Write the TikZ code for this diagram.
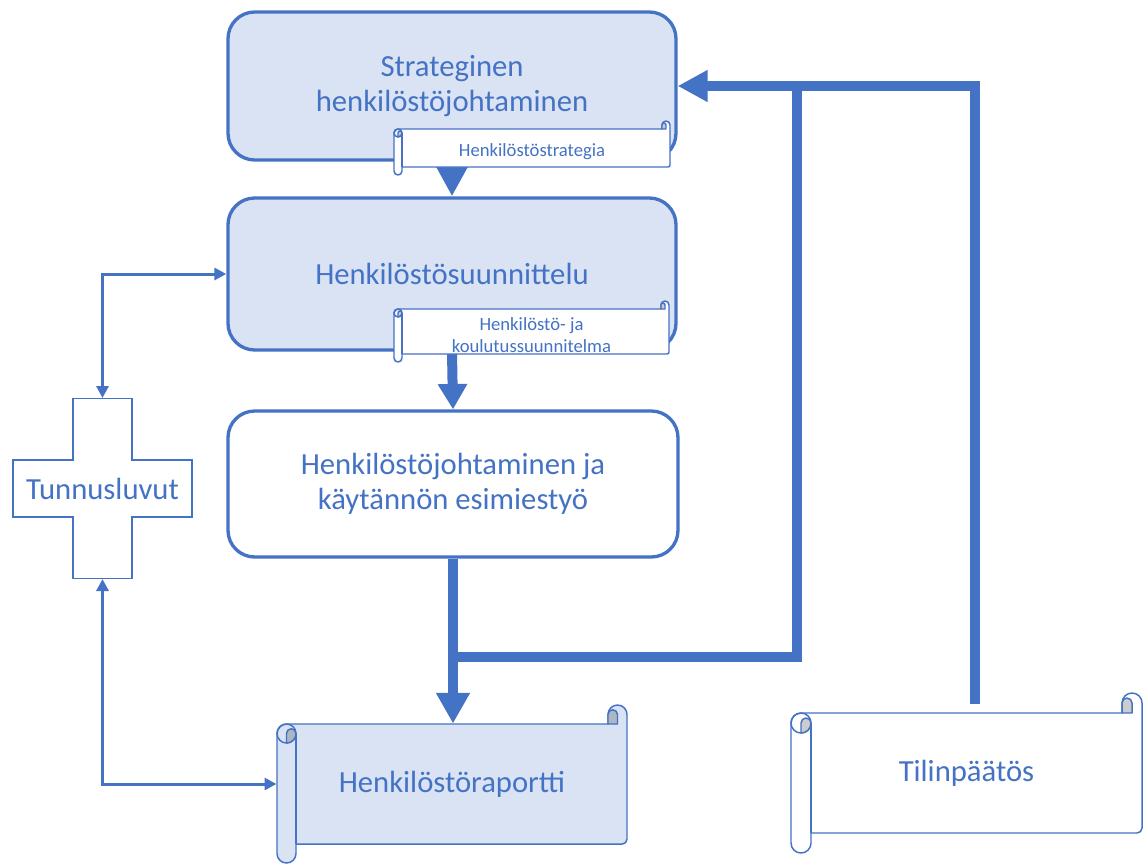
\documentclass[tikz,border=0pt]{standalone}
\usepackage{fontspec}
\setmainfont{Carlito}
\usetikzlibrary{arrows.meta,calc}
\definecolor{accblue}{RGB}{68,114,196}
\definecolor{boxfill}{RGB}{218,227,243}
\tikzset{every picture/.style={line width=0.75pt}}
\tikzset{
  mainbox/.style={draw=accblue, line width=2.5pt, rounded corners=20pt, minimum width=336pt, text=accblue, align=center, font=\fontsize{23}{26}\selectfont, inner sep=0pt},
  scrolledge/.style={draw=accblue, line width=1.1pt, line join=round},
  scrolltext/.style={text=accblue, align=center, inner sep=0pt},
  flowline/.style={draw=accblue, line width=7.5pt},
  linkline/.style={draw=accblue, line width=2.25pt, {Triangle[length=9pt,width=9pt]}-{Triangle[length=9pt,width=9pt]}},
  crossline/.style={draw=accblue, line width=1.1pt},
  bigtext/.style={font=\fontsize{23}{26}\selectfont},
  smalltext/.style={font=\fontsize{14}{16.5}\selectfont, yshift=-3pt},
}
% horizontal scroll: name, left, top, right, bottom, roll size, fill, text style, text
\newcommand{\scrollshape}[9]{%
  \filldraw[scrolledge, fill=#7] ({#2},{#3+1.5*#6}) arc[start angle=180, end angle=270, radius={#6/2}]
    -- ({#4-#6},{#3+#6}) -- ({#4-#6},{#3+#6/2}) arc[start angle=180, end angle=360, radius={#6/2}]
    -- ({#4},{#5-#6-#6/4}) arc[start angle=0, end angle=90, radius={#6/4}]
    -- ({#2+#6},{#5-#6}) -- ({#2+#6},{#5-#6/2}) arc[start angle=0, end angle=180, radius={#6/2}]
    -- cycle;
  \draw[scrolledge] ({#2+#6/2},{#3+1.5*#6}) circle[radius={#6/2}];
  \draw[scrolledge] ({#2+#6},{#3+1.5*#6}) -- ({#2+#6},{#5-#6});
  \filldraw[scrolledge, fill=#7!80!black] ({#2+#6},{#3+1.5*#6}) arc[start angle=0, end angle=-180, radius={#6/4}]
    -- ({#2+#6/2},{#3+2*#6}) arc[start angle=90, end angle=0, radius={#6/2}] -- cycle;
  \filldraw[scrolledge, fill=#7!80!black] ({#4-#6},{#3+#6/2}) arc[start angle=180, end angle=360, radius={#6/4}]
    -- ({#4-#6/2},{#3+#6}) -- ({#4-#6},{#3+#6}) -- cycle;
  \node[scrolltext, #8, minimum width={(#4-#2)*0.75pt}, minimum height={(#5-#3)*0.75pt}] (#1) at ({(#2+#4)/2},{(#3+#5)/2}) {#9};
}

\begin{document}
\begin{tikzpicture}[x=0.75pt,y=0.75pt,yscale=-1,xscale=1]
\path[fill=white] (0,0) rectangle (1144,864);

% Rounded boxes
\node[mainbox, fill=boxfill, minimum height=111pt] (strateg) at (452,86) {Strateginen\\henkilöstöjohtaminen};
\node[mainbox, fill=boxfill, minimum height=114pt] (plan) at (452,274) {Henkilöstösuunnittelu};
\node[mainbox, fill=white, minimum width=337.5pt, minimum height=109.5pt] (johto) at (453,484) {Henkilöstöjohtaminen ja\\käytännön esimiestyö};

% Arrows down the chain
\draw[flowline, -{Triangle[length=22.5pt,width=22.5pt]}] (strateg.south) -- (plan.north);
\draw[flowline, -{Triangle[length=19pt,width=21pt]}] (plan.south) -- (johto.north);

% Scrolls
\scrollshape{strat}{394}{121}{670}{175}{8}{white}{smalltext}{Henkilöstöstrategia}
\scrollshape{suunn}{394}{301}{669}{362}{8}{white}{smalltext}{Henkilöstö- ja\\koulutussuunnitelma}
\scrollshape{raport}{277}{705}{627}{863}{19}{boxfill}{bigtext}{Henkilöstöraportti}
\scrollshape{tilin}{791}{693}{1142}{853}{20}{white}{bigtext}{Tilinpäätös}

\coordinate (raporttop) at ($(raport.north)+(0,19)$);
\coordinate (split) at ($(johto.south)+(0,98)$);
\coordinate (merge) at ($(strateg.east)+(119,0)$);
\coordinate (tilintop) at ($(tilin.north)+(8.5,11)$);

% Feedback lines
\draw[flowline, -{Triangle[length=23pt,width=24pt]}] (johto.south) -- (johto.south |- raporttop);
\draw[flowline] (split) -| (merge);
\draw[flowline, -{Triangle[length=22.5pt,width=22.5pt]}] (tilintop) |- (strateg.east);

% Tunnusluvut cross
\node[scrolltext, bigtext, minimum height=135pt] (tunnus) at (102.5,488.5) {Tunnusluvut};
\draw[crossline] (tunnus.center) ++(-29.5,-90) -- ++(59,0) -- ++(0,61.5) -- ++(60,0) -- ++(0,57) -- ++(-60,0)
  -- ++(0,61.5) -- ++(-59,0) -- ++(0,-61.5) -- ++(-60,0) -- ++(0,-57) -- ++(60,0) -- cycle;

\draw[linkline] (tunnus.north) |- (plan.west);
\draw[linkline] (tunnus.south) |- (raport.west);

\end{tikzpicture}
\end{document}
